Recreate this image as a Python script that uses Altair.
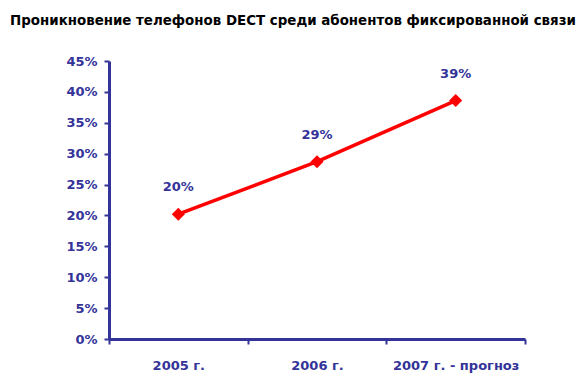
import altair as alt
import pandas as pd

years = ["2005 г.", "2006 г.", "2007 г. - прогноз"]
values = [0.202, 0.287, 0.386]
labels = ["20%", "29%", "39%"]

df = pd.DataFrame({"year": years, "value": values, "label": labels})

BLUE = "#333399"
FONT = "DejaVu Sans"

x = alt.X("year:N", sort=years, title=None,
          scale=alt.Scale(paddingInner=0, paddingOuter=0),
          axis=alt.Axis(labelAngle=0, tickBand="extent", labelPadding=15,
                        labelFontSize=13, labelFontWeight="bold", labelColor=BLUE,
                        labelFont=FONT, domainColor=BLUE, domainWidth=3,
                        tickColor=BLUE, tickWidth=2, tickSize=5, grid=False))
y = alt.Y("value:Q", title=None,
          scale=alt.Scale(domain=[0, 0.45], nice=False),
          axis=alt.Axis(values=[i * 0.05 for i in range(10)], format=".0%",
                        labelFontSize=13, labelFontWeight="bold", labelColor=BLUE,
                        labelFont=FONT, labelPadding=7, domainColor=BLUE, domainWidth=3,
                        tickColor=BLUE, tickWidth=2, tickSize=5, grid=False))

base = alt.Chart(df).encode(x=x, y=y)

line = base.mark_line(color="#FF0000", strokeWidth=3.5)
pts = base.mark_point(shape="diamond", filled=True, color="#FF0000", size=170, opacity=1)
txt = base.mark_text(dy=-27, font=FONT, fontSize=13, fontWeight="bold", color=BLUE).encode(text="label:N")

chart = alt.layer(line, pts, txt).properties(
    width=416, height=278,
    autosize=alt.AutoSizeParams(type="none"),
    padding={"left": 101, "top": 53, "right": 52, "bottom": 40},
    title=alt.TitleParams("Проникновение телефонов DECT среди абонентов фиксированной связи",
                          font=FONT, fontSize=13.4, fontWeight="bold", color="#000000",
                          anchor="start", frame="group", offset=28, dx=-99),
).configure_view(stroke=None)

chart.save("out.html", embed_options={"renderer": "svg", "actions": False})
